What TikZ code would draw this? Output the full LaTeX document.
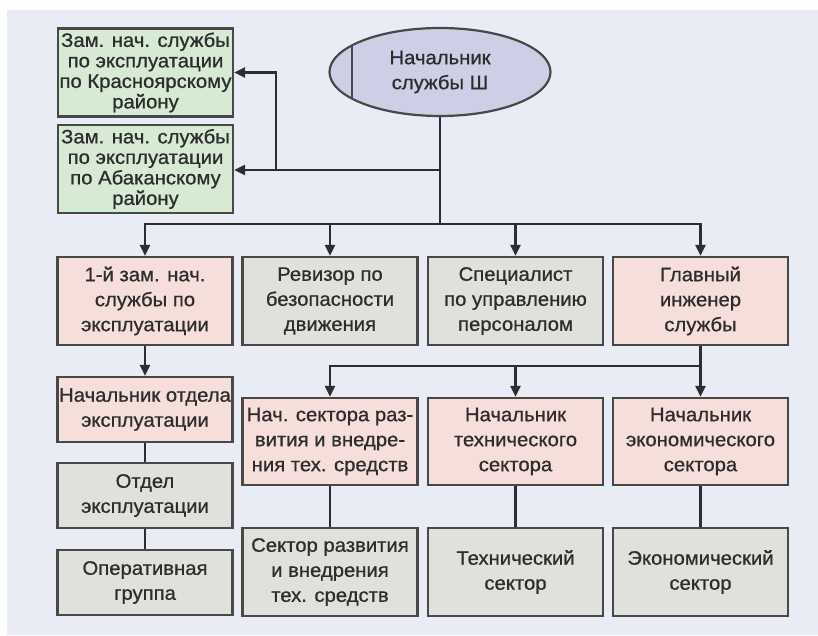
\documentclass[tikz,border=0pt]{standalone}
\usepackage{fontspec}
\setmainfont[FakeStretch=1.04, FakeBold=0.8]{Liberation Sans}
\usetikzlibrary{arrows.meta,shapes.geometric}

\definecolor{bgc}{RGB}{233,235,245}
\definecolor{greenf}{RGB}{214,234,212}
\definecolor{pinkf}{RGB}{246,222,218}
\definecolor{greyf}{RGB}{224,224,220}
\definecolor{ellf}{RGB}{204,207,229}
\definecolor{edge}{RGB}{72,72,72}
\definecolor{wire}{RGB}{45,45,50}
\definecolor{txt}{RGB}{45,45,45}

\tikzset{
  box/.style={draw=edge, line width=2.2pt, rectangle, inner sep=0pt,
    minimum width=175pt, align=center, text=txt,
    font=\fontsize{19.5}{25}\selectfont},
  boxg/.style={box, fill=greenf, minimum height=88pt,
    font=\fontsize{19.5}{20.5}\selectfont},
  boxp/.style={box, fill=pinkf},
  boxs/.style={box, fill=greyf},
  wirel/.style={draw=wire, line width=2.6pt},
  arr/.style={wirel, -{Triangle[width=10pt,length=11pt]}},
}

\begin{document}
\begin{tikzpicture}[x=1pt, y=-1pt]
\useasboundingbox (0,0) rectangle (818,636);
\fill[bgc] (7,10) rectangle (818,635);

% top: head of service and the two regional deputies
\node[ellipse, draw=edge, line width=2.2pt, fill=ellf, minimum width=221pt,
      minimum height=88pt, inner sep=0pt, align=center, text=txt,
      font=\fontsize{19.5}{25}\selectfont] (head) at (440,72)
      {Начальник\\службы Ш};
\draw[edge, line width=2pt] (352,46) -- (352,98);

\node[boxg] (gk) at (145.5,72.5) {Зам. нач. службы\\по эксплуатации\\по Красноярскому\\району};
\node[boxg] (ga) at (145.5,169) {Зам. нач. службы\\по эксплуатации\\по Абаканскому\\району};

% second row
\node[boxp, minimum height=88pt] (r1) at (145,301) {1-й зам. нач.\\службы по\\эксплуатации};
\node[boxs, minimum height=88pt] (r2) at (330,301) {Ревизор по\\безопасности\\движения};
\node[boxs, minimum height=88pt] (r3) at (515.5,301) {Специалист\\по управлению\\персоналом};
\node[boxp, minimum height=88pt] (r4) at (700.5,301) {Главный\\инженер\\службы};

% left column
\node[boxp, minimum height=65pt] (ca) at (145,409.5) {Начальник отдела\\эксплуатации};
\node[boxs, minimum height=65pt] (cb) at (145,495.5) {Отдел\\эксплуатации};
\node[boxs, minimum height=65pt] (cc) at (145,582.5) {Оперативная\\группа};

% sectors under the chief engineer
\node[boxp, minimum height=87pt] (s2) at (330,441.5) {Нач. сектора раз-\\вития и внедре-\\ния тех. средств};
\node[boxp, minimum height=87pt] (s3) at (515.5,441.5) {Начальник\\технического\\сектора};
\node[boxp, minimum height=87pt] (s4) at (700.5,441.5) {Начальник\\экономического\\сектора};

\node[boxs, minimum height=88pt] (t2) at (330,572) {Сектор развития\\и внедрения\\тех. средств};
\node[boxs, minimum height=88pt] (t3) at (515.5,572) {Технический\\сектор};
\node[boxs, minimum height=88pt] (t4) at (700.5,572) {Экономический\\сектор};

% connectors
\coordinate (bus) at (440,224);
\coordinate (jn) at (440,170);
\coordinate (kn) at (276,170);
\draw[wirel] (head.south) -- (bus);
\draw[arr] (jn) -- (jn -| ga.east);
\draw[arr] (kn) |- (gk.east);
\draw[arr] (bus) -| (r1.north);
\draw[arr] (bus) -| (r4.north);
\draw[arr] (r2.north |- bus) -- (r2.north);
\draw[arr] (r3.north |- bus) -- (r3.north);

\draw[arr] (r1.south) -- (ca.north);
\draw[wirel] (ca.south) -- (cb.north);
\draw[wirel] (cb.south) -- (cc.north);

\coordinate (bus2) at (700.5,366);
\draw[wirel] (r4.south) -- (bus2);
\draw[arr] (bus2) -- (s4.north);
\draw[arr] (bus2) -| (s2.north);
\draw[arr] (s3.north |- bus2) -- (s3.north);

\draw[wirel] (s2.south) -- (t2.north);
\draw[wirel] (s3.south) -- (t3.north);
\draw[wirel] (s4.south) -- (t4.north);
\end{tikzpicture}
\end{document}
